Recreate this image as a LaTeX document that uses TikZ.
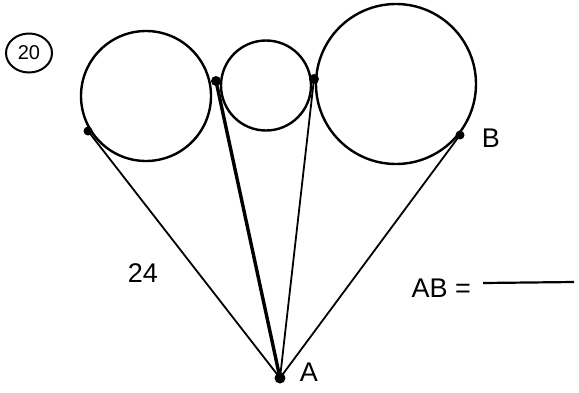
\documentclass[tikz,border=0pt]{standalone}
\usepackage{fontspec}
\setmainfont{Liberation Sans}
\usetikzlibrary{shapes.geometric}
\begin{document}
\begin{tikzpicture}[x=1pt,y=-1pt,
  circ/.style={line width=2.4pt},
  seg/.style={line width=1.8pt},
  thickseg/.style={line width=3.4pt},
  pt/.style={circle,fill=black,inner sep=0pt,minimum size=9pt},
  lbl/.style={font=\fontsize{27}{30}\selectfont}]
\useasboundingbox (0,0) rectangle (579,392);
% circles
\coordinate (c1) at (146,96);
\coordinate (c2) at (266,85.5);
\coordinate (c3) at (396,84);
\draw[circ] (c1) circle (65pt);
\draw[circ] (c2) circle (45pt);
\draw[circ] (c3) circle (80pt);
% points
\node[pt] (P) at (88,131) {};
\node[pt,minimum size=10pt] (Q) at (216,81) {};
\node[pt,minimum size=10pt] (R) at (314,79) {};
\node[pt] (B) at (460,135) {};
\node[pt,minimum size=11pt] (A) at (280,378) {};
% tangent lines
\draw[seg] (A.center) -- (P.center);
\draw[thickseg] (A.center) -- (Q.center);
\draw[seg] (A.center) -- (R.center);
\draw[seg] (A.center) -- (B.center);
% labels
\node[lbl] (Blbl) at (491,138) {B};
\node[lbl] (Albl) at (309,372) {A};
\node[lbl] (n24) at (143,273) {24};
\node[lbl,anchor=west] (AB) at (408,288) {AB =};
\coordinate (u1) at (483,283);
\coordinate (u2) at (574,282);
\draw[line width=2.2pt] (u1) -- (u2);
% problem number
\node[draw,ellipse,line width=2pt,minimum width=46pt,minimum height=39pt,inner sep=0pt,font=\fontsize{20}{22}\selectfont] (num) at (29,53) {20};
\end{tikzpicture}
\end{document}
